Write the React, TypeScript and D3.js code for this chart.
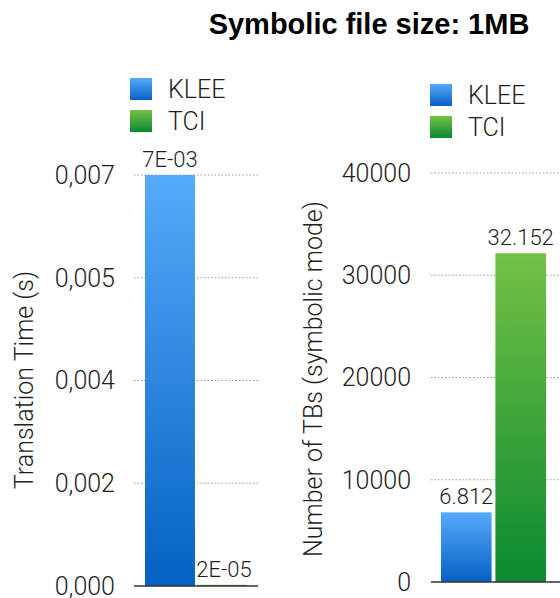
import React from "react";
import * as d3 from "d3";

// Series and categories
const categories = ["KLEE", "TCI"];
const translationTime = [0.007, 0.00002]; // seconds
const tbCount = [6812, 32152]; // number of translation blocks (symbolic mode)

// Tick positions and their printed labels
const timeTicks = [0, 0.00175, 0.0035, 0.00525, 0.007];
const timeTickLabels = ["0,000", "0,002", "0,004", "0,005", "0,007"];
const countTicks = [0, 10000, 20000, 30000, 40000];
const countTickLabels = ["0", "10000", "20000", "30000", "40000"];

const title = "Symbolic file size: 1MB";
const leftAxisTitle = "Translation Time (s)";
const rightAxisTitle = "Number of TBs (symbolic mode)";

const W = 560;
const H = 598;
const FONT = "'Roboto', 'Helvetica Neue', Arial, sans-serif";
const TEXT = "#1e1e1e";

const gradIds = ["grad-klee", "grad-tci"];
const gradStops: [string, string][] = [
  ["#55aafb", "#0561c2"],
  ["#74c146", "#0a8a2f"],
];

// 7E-03 style scientific labels
const sci = (v: number) => {
  const [m, e] = v.toExponential(0).toUpperCase().split("E");
  const sign = e[0];
  const digits = e.slice(1).padStart(2, "0");
  return `${m}E${sign}${digits}`;
};
const dotted = d3.formatLocale({ decimal: ",", thousands: ".", grouping: [3], currency: ["", ""] }).format(",d");

type PanelProps = {
  values: number[];
  y: d3.ScaleLinear<number, number>;
  x: d3.ScaleBand<string>;
  ticks: number[];
  tickLabels: string[];
  tickRight: number;
  axisX0: number;
  axisX1: number;
  fmt: (v: number) => string;
  labelDx: number[];
};

function Panel({ values, y, x, ticks, tickLabels, tickRight, axisX0, axisX1, fmt, labelDx }: PanelProps) {
  const base = y(0);
  return (
    <g>
      {ticks.map((t, i) => (
        <g key={i}>
          {t !== 0 && (
            <line
              x1={axisX0}
              x2={axisX1}
              y1={y(t)}
              y2={y(t)}
              stroke="#9a9a9a"
              strokeWidth={1}
              strokeDasharray="1.5,2"
            />
          )}
          <text
            x={tickRight}
            y={y(t)}
            dy="0.35em"
            textAnchor="end"
            fontSize={25}
            fontWeight={300}
            fill={TEXT}
          >
            {tickLabels[i]}
          </text>
        </g>
      ))}
      {values.map((v, i) => (
        <rect
          key={i}
          x={x(categories[i])}
          y={y(v)}
          width={x.bandwidth()}
          height={base - y(v)}
          fill={`url(#${gradIds[i]})`}
        />
      ))}
      <line x1={axisX0} x2={axisX1} y1={base} y2={base} stroke="#333" strokeWidth={1.5} />
      {values.map((v, i) => (
        <text
          key={i}
          x={(x(categories[i]) as number) + x.bandwidth() / 2 + labelDx[i]}
          y={y(v) - 8}
          textAnchor="middle"
          fontSize={22}
          fontWeight={300}
          fill={TEXT}
        >
          {fmt(v)}
        </text>
      ))}
    </g>
  );
}

function Legend({ x, y }: { x: number; y: number }) {
  return (
    <g transform={`translate(${x},${y})`}>
      {categories.map((c, i) => (
        <g key={c} transform={`translate(0,${i * 32})`}>
          <rect width={22} height={22} fill={`url(#${gradIds[i]})`} />
          <text x={38} y={20} fontSize={25} fontWeight={300} fill={TEXT}>
            {c}
          </text>
        </g>
      ))}
    </g>
  );
}

export default function App() {
  const yTime = d3.scaleLinear().domain([0, 0.007]).range([586, 175]);
  const xTime = d3.scaleBand<string>().domain(categories).range([145, 247]).paddingInner(0.04);

  const yCount = d3.scaleLinear().domain([0, 40000]).range([582, 173]);
  const xCount = d3.scaleBand<string>().domain(categories).range([441, 546]).paddingInner(0.07);

  return (
    <svg
      width={W}
      height={H}
      style={{ position: "absolute", left: 0, top: 0, background: "#fff" }}
      fontFamily={FONT}
    >
      <defs>
        {gradIds.map((id, i) => (
          <linearGradient key={id} id={id} x1="0" y1="0" x2="0" y2="1">
            <stop offset="0" stopColor={gradStops[i][0]} />
            <stop offset="1" stopColor={gradStops[i][1]} />
          </linearGradient>
        ))}
      </defs>
      <rect width={W} height={H} fill="#fff" />

      <text x={369} y={34} textAnchor="middle" fontSize={29} fontWeight={700} fill="#000"
        fontFamily="'Liberation Sans', Arial, sans-serif">
        {title}
      </text>

      <Legend x={130} y={78} />
      <Legend x={430} y={84} />

      <text
        transform={`translate(33,380) rotate(-90)`}
        textAnchor="middle"
        fontSize={25}
        fontWeight={300}
        fill={TEXT}
      >
        {leftAxisTitle}
      </text>
      <text
        transform={`translate(322,379) rotate(-90)`}
        textAnchor="middle"
        fontSize={25}
        fontWeight={300}
        fill={TEXT}
      >
        {rightAxisTitle}
      </text>

      <Panel
        values={translationTime}
        y={yTime}
        x={xTime}
        ticks={timeTicks}
        tickLabels={timeTickLabels}
        tickRight={115}
        axisX0={134}
        axisX1={258}
        fmt={sci}
        labelDx={[0, 2]}
      />
      <Panel
        values={tbCount}
        y={yCount}
        x={xCount}
        ticks={countTicks}
        tickLabels={countTickLabels}
        tickRight={411}
        axisX0={431}
        axisX1={560}
        fmt={dotted}
        labelDx={[0, 0]}
      />
    </svg>
  );
}
